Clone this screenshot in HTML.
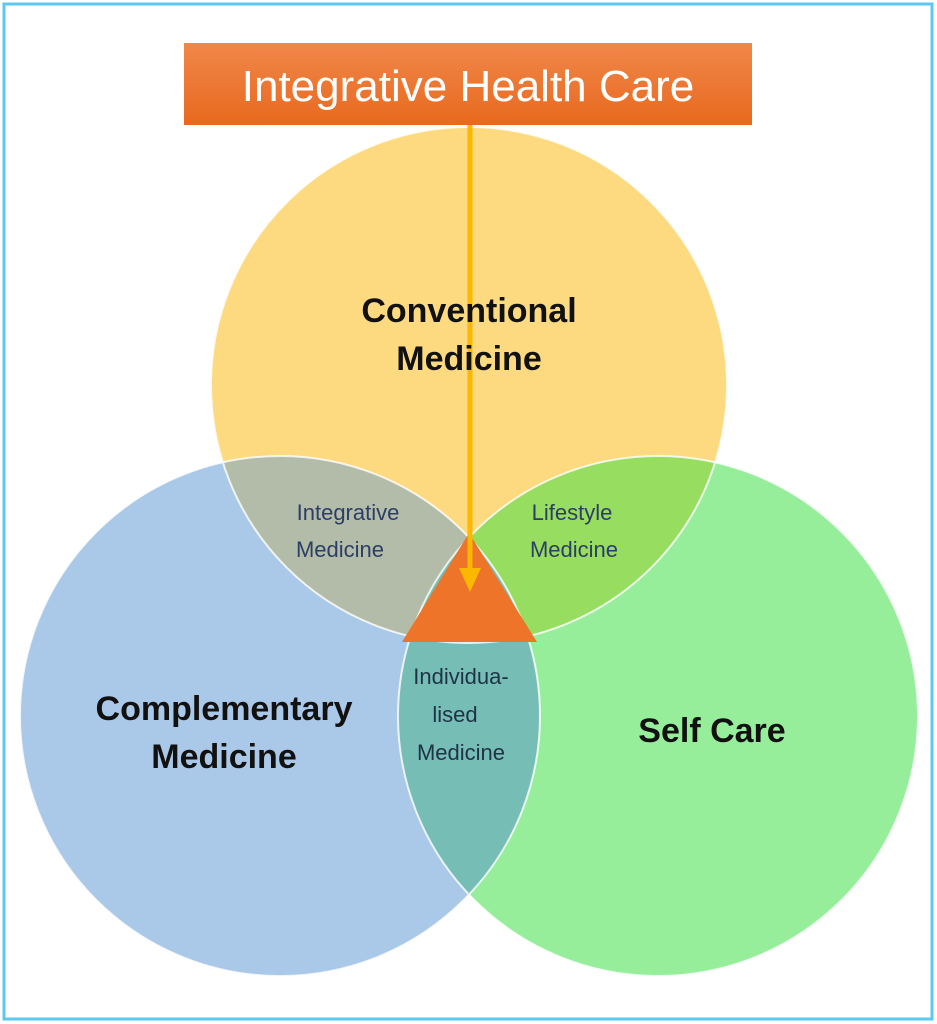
<!DOCTYPE html>
<html><head><meta charset="utf-8"><style>
html,body{margin:0;padding:0;background:#fff;width:937px;height:1024px;overflow:hidden}
svg{display:block}
</style></head><body>
<svg width="937" height="1024" viewBox="0 0 937 1024" xmlns="http://www.w3.org/2000/svg" font-family="Liberation Sans, sans-serif">
<defs>
<clipPath id="cT"><circle cx="469" cy="385" r="258"/></clipPath>
<clipPath id="cL"><circle cx="280" cy="716" r="260"/></clipPath>
<clipPath id="cR"><circle cx="658" cy="716" r="260"/></clipPath>
<linearGradient id="og" x1="0" y1="0" x2="0" y2="1"><stop offset="0" stop-color="#f0874a"/><stop offset="1" stop-color="#e8691e"/></linearGradient>
</defs>
<rect x="4" y="4" width="928" height="1015" fill="#fff" stroke="#5cc8f0" stroke-width="3"/>
<circle cx="469" cy="385" r="258" fill="#fdd97f"/>
<circle cx="280" cy="716" r="260" fill="#aac8e7"/>
<circle cx="658" cy="716" r="260" fill="#96ee9b"/>
<g clip-path="url(#cT)"><circle cx="280" cy="716" r="260" fill="#b3bca8"/><circle cx="658" cy="716" r="260" fill="#97dd5f"/></g>
<g clip-path="url(#cL)"><circle cx="658" cy="716" r="260" fill="#76bdb6"/></g>
<g fill="none" stroke="#fff" stroke-width="2" opacity="0.8">
<circle cx="469" cy="385" r="258"/><circle cx="280" cy="716" r="260"/><circle cx="658" cy="716" r="260"/>
</g>
<polygon points="469,533 402,642 537,642" fill="#ed7428"/>
<rect x="184" y="43" width="568" height="82" fill="url(#og)"/>
<text x="468" y="101" font-size="44" fill="#fff" text-anchor="middle">Integrative Health Care</text>
<line x1="470" y1="125" x2="470" y2="570" stroke="#fbb800" stroke-width="5"/>
<polygon points="459,568 481,568 470,592" fill="#fbb800"/>
<g font-weight="bold" fill="#111" text-anchor="middle" font-size="34">
<text x="469" y="322">Conventional</text><text x="469" y="370">Medicine</text>
<text x="224" y="720">Complementary</text><text x="224" y="768">Medicine</text>
<text x="712" y="742">Self Care</text>
</g>
<g fill="#2c3e66" text-anchor="middle" font-size="22">
<text x="348" y="520">Integrative</text><text x="340" y="557">Medicine</text>
<text x="572" y="520">Lifestyle</text><text x="574" y="557">Medicine</text>
</g>
<g fill="#1f3344" text-anchor="middle" font-size="22">
<text x="461" y="684">Individua-</text><text x="455" y="722">lised</text><text x="461" y="760">Medicine</text>
</g>
</svg>
</body></html>
